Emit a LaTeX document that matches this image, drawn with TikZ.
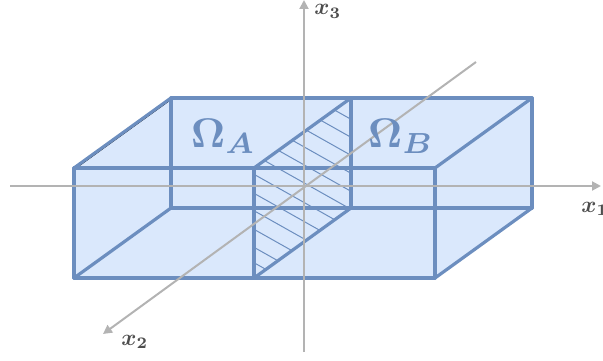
\documentclass[tikz,border=0pt]{standalone}
\usepackage{amsmath,amssymb,bm}
\definecolor{boxfill}{HTML}{DAE8FC}
\definecolor{boxline}{HTML}{6C8EBF}
\definecolor{axisgray}{HTML}{B3B3B3}
\definecolor{labelgray}{HTML}{4D4D4D}
\usetikzlibrary{arrows.meta}
\tikzset{
  edge/.style={draw=boxline,line width=3.2pt,line cap=round,line join=round},
  hatchline/.style={draw=boxline,line width=1pt},
  axisline/.style={draw=axisgray,line width=2pt,-{Triangle[width=9pt,length=9pt]}},
  axislabel/.style={text=labelgray,inner sep=0pt,scale=2.3},
  thinblack/.style={draw=black,line width=0.6pt},
  omega/.style={text=boxline,inner sep=0pt,scale=4.15}
}
\begin{document}
\begin{tikzpicture}[x=1pt,y=-1pt]
\useasboundingbox (0,0) rectangle (603,361);
% corners
\coordinate (fa) at (74,168);
\coordinate (fb) at (435,168);
\coordinate (fc) at (435,278);
\coordinate (fd) at (74,278);
\coordinate (ba) at (171,98);
\coordinate (bb) at (532,98);
\coordinate (bc) at (532,208);
\coordinate (bd) at (171,208);
\coordinate (ma) at (254,168);
\coordinate (mb) at (351,98);
\coordinate (mc) at (351,208);
\coordinate (md) at (254,278);
% fill
\fill[boxfill] (fa) -- (ba) -- (bb) -- (bc) -- (fc) -- (fd) -- cycle;
% thin black slivers
\draw[thinblack] ([yshift=-1.7pt]fa) -- ([yshift=-1.7pt]ba);
\draw[thinblack] ([xshift=-1.5pt]fb) -- ([xshift=-1.5pt]fc);
% hatching
\begin{scope}
\clip (ma) -- (mb) -- (mc) -- (md) -- cycle;
\foreach \y in {64.7,82.7,100.7,118.7,136.7,154.7,174.3,193.3,210.7,229.3,247.3,262.7}{
  \pgfmathsetmacro{\ye}{\y+0.563*97}
  \draw[hatchline] (254,\y) -- (351,\ye);
}
\end{scope}
% edges
\draw[edge] (fa) -- (fb);
\draw[edge] (fb) -- (fc);
\draw[edge] (fc) -- (fd);
\draw[edge] (fd) -- (fa);
\draw[edge] (ba) -- (bb);
\draw[edge] (bb) -- (bc);
\draw[edge] (bc) -- (bd);
\draw[edge] (bd) -- (ba);
\draw[edge] (fa) -- (ba);
\draw[edge] (fb) -- (bb);
\draw[edge] (fc) -- (bc);
\draw[edge] (fd) -- (bd);
\draw[edge] (ma) -- (mb);
\draw[edge] (mb) -- (mc);
\draw[edge] (mc) -- (md);
\draw[edge] (md) -- (ma);
% axes
\coordinate (x1s) at (10,186);
\coordinate (x1e) at (601,186);
\coordinate (x3s) at (304,352);
\coordinate (x3e) at (304,0);
\coordinate (x2s) at (476,62);
\coordinate (x2e) at (103,334);
\draw[axisline] (x1s) -- (x1e);
\draw[axisline] (x3s) -- (x3e);
\draw[axisline] (x2s) -- (x2e);
% labels
\node[axislabel,anchor=base west] (lx1) at (581,212) {$\bm{x_1}$};
\node[axislabel,anchor=base west] (lx2) at (121,345) {$\bm{x_2}$};
\node[axislabel,anchor=base west] (lx3) at (314,15) {$\bm{x_3}$};
\node[omega,anchor=base west] (oa) at (190,147) {$\bm{\Omega}_{\bm{A}}$};
\node[omega,anchor=base west] (ob) at (367,147) {$\bm{\Omega}_{\bm{B}}$};
\end{tikzpicture}
\end{document}
